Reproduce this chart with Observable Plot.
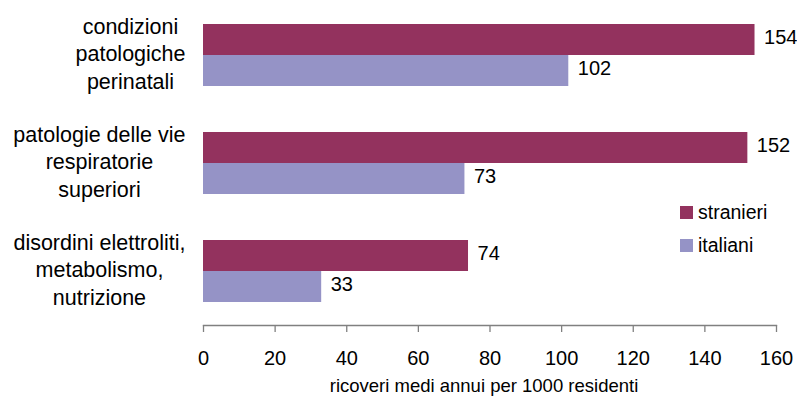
<!DOCTYPE html>
<html>
<head>
<meta charset="utf-8">
<script src="https://cdn.jsdelivr.net/npm/d3@7"></script>
<script src="https://cdn.jsdelivr.net/npm/@observablehq/plot@0.6"></script>
<style>
  body { margin: 0; background: #fff; }
  #chart { position: relative; width: 797px; height: 396px; font-family: "Liberation Sans", Arial, sans-serif; }
  .legend { position: absolute; left: 680px; top: 0; font-size: 19.5px; color: #000; }
  .legend .item { position: absolute; left: 0; white-space: nowrap; display: flex; align-items: center; }
  .legend .sw { width: 13px; height: 13px; margin-right: 5px; }
</style>
</head>
<body>
<div id="chart"></div>
<script>
const categories = [
  "condizioni\npatologiche\nperinatali",
  "patologie delle vie\nrespiratorie\nsuperiori",
  "disordini elettroliti,\nmetabolismo,\nnutrizione"
];
const seriesNames = ["stranieri", "italiani"];
const stranieri = [154, 152, 74];
const italiani = [102, 73, 33];
const colors = ["#93325e", "#9593c6"];
const xTicks = [0, 20, 40, 60, 80, 100, 120, 140, 160];
const xTitle = "ricoveri medi annui per 1000 residenti";

const dataS = categories.map((c, i) => ({category: c, series: seriesNames[0], value: stranieri[i]}));
const dataI = categories.map((c, i) => ({category: c, series: seriesNames[1], value: italiani[i]}));

const W = 797, H = 396, mt = 1, mb = 71, ml = 203, mr = 21;
const pIn = 0.4286, pOut = 0.2074;
const step = (H - mt - mb) / (categories.length - pIn + 2 * pOut);
const bw = step * (1 - pIn);
const half = bw / 2;

const plot = Plot.plot({
  width: W, height: H,
  marginTop: mt, marginBottom: mb, marginLeft: ml, marginRight: mr,
  style: {fontFamily: '"Liberation Sans", Arial, sans-serif', background: "#fff", color: "#000"},
  x: {domain: [0, 160]},
  y: {domain: categories, paddingInner: pIn, paddingOuter: pOut},
  color: {domain: seriesNames, range: colors},
  marks: [
    Plot.barX(dataS, {x: "value", y: "category", fill: "series", insetBottom: half, insetTop: 0}),
    Plot.barX(dataI, {x: "value", y: "category", fill: "series", insetTop: half, insetBottom: 0}),
    Plot.text(dataS, {x: "value", y: "category", text: d => String(d.value), textAnchor: "start", dx: 9, dy: -half / 2 - 2.5, fontSize: 20, fill: "#000"}),
    Plot.text(dataI, {x: "value", y: "category", text: d => String(d.value), textAnchor: "start", dx: 9, dy: half / 2 - 2.5, fontSize: 20, fill: "#000"}),
    Plot.frame({anchor: "bottom", stroke: "#808080", strokeWidth: 1.3}),
    Plot.axisX({ticks: xTicks, tickSize: 7, tickPadding: 18, fontSize: 20, stroke: "#808080", fill: "#000", strokeWidth: 1.3, label: null, tickFormat: d => String(d)}),
    Plot.axisY({tickSize: 0, tickPadding: 18, fontSize: 21.5, lineHeight: 1.3, fill: "#000", label: null, dy: -3}),
    Plot.text([xTitle], {frameAnchor: "bottom", dy: 66, dx: -6, fontSize: 18.5, fill: "#000", text: d => d})
  ]
});

const chart = document.getElementById("chart");
chart.appendChild(plot);

// center the lines of each multi-line category label within its block (block right-aligned)
plot.querySelectorAll('g[aria-label="y-axis tick label"] text').forEach(t => {
  const w = t.getBBox().width;
  t.setAttribute("text-anchor", "middle");
  const tr = t.getAttribute("transform") || "";
  t.setAttribute("transform", tr + ` translate(${-w / 2},0)`);
});

// legend
const legend = document.createElement("div");
legend.className = "legend";
const legendTops = [201, 234];
seriesNames.forEach((s, i) => {
  const item = document.createElement("div");
  item.className = "item";
  item.style.top = legendTops[i] + "px";
  const sw = document.createElement("span");
  sw.className = "sw";
  sw.style.background = colors[i];
  const lab = document.createElement("span");
  lab.textContent = s;
  item.appendChild(sw);
  item.appendChild(lab);
  legend.appendChild(item);
});
chart.appendChild(legend);
</script>
</body>
</html>
